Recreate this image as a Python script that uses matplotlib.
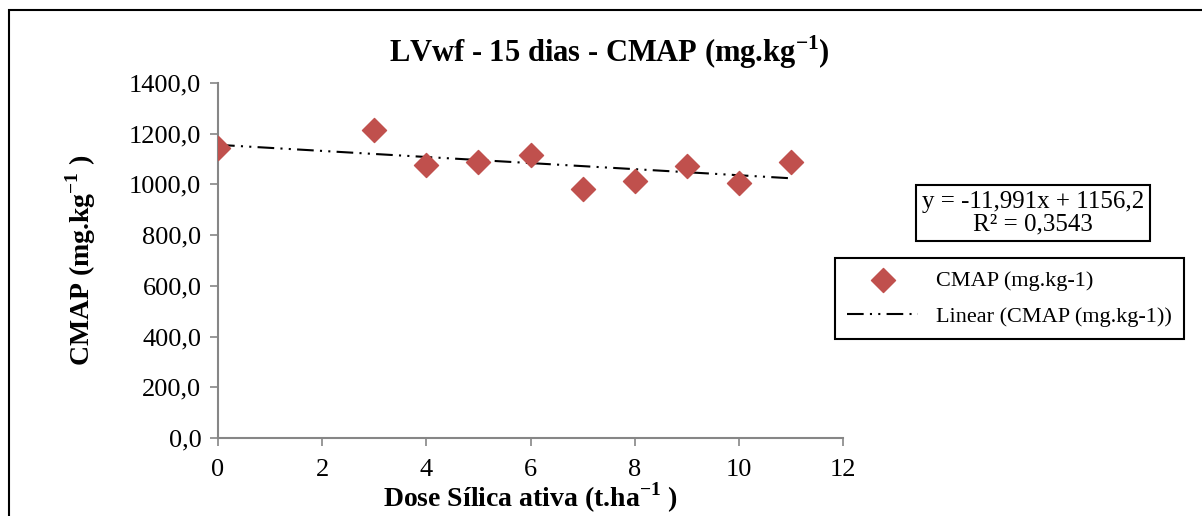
import numpy as np
import matplotlib.pyplot as plt
from matplotlib.patches import Rectangle

# dados
dose = [0, 3, 4, 5, 6, 7, 8, 9, 10, 11]
cmap = [1143, 1214, 1077, 1088, 1116, 982, 1013, 1073, 1006, 1088]
coef_a = -11.991
coef_b = 1156.2
r2 = 0.3543

plt.rcParams['font.family'] = ['Liberation Serif', 'DejaVu Serif']
plt.rcParams['mathtext.fontset'] = 'custom'
plt.rcParams['mathtext.rm'] = 'Liberation Serif'
plt.rcParams['mathtext.bf'] = 'Liberation Serif:bold'

fig = plt.figure(figsize=(12.02, 5.16), dpi=100)
ax = fig.add_axes([0.1814, 0.1512, 0.5199, 0.6879])

ax.scatter(dose, cmap, marker='D', s=150, color='#C0504D', zorder=3,
           label='CMAP (mg.kg-1)')
xl = np.array([min(dose), max(dose)])
ax.plot(xl, coef_a * xl + coef_b, color='black', lw=1.5,
        linestyle=(0, (8, 3, 1, 3, 1, 3)), label='Linear (CMAP (mg.kg-1))')

ax.set_xlim(0, 12)
ax.set_ylim(0, 1400)
ax.set_xticks(range(0, 13, 2))
ax.set_yticks(range(0, 1401, 200))
ax.set_yticklabels([f'{v:.1f}'.replace('.', ',') for v in range(0, 1401, 200)])
ax.tick_params(labelsize=19, color='#868686', length=6, width=1.2)
ax.tick_params(axis='x', pad=9)
ax.tick_params(axis='y', pad=6)
for s in ['top', 'right']:
    ax.spines[s].set_visible(False)
for s in ['left', 'bottom']:
    ax.spines[s].set_color('#868686')
    ax.spines[s].set_linewidth(1.5)

fig.text(0.507, 0.899, r'LVwf - 15 dias - CMAP (mg.kg$^{\mathbf{-1}}$)', fontsize=22,
         fontweight='bold', ha='center', va='center')
ax.set_xlabel(r'Dose Sílica ativa (t.ha$^{\mathbf{-1}}$ )', fontsize=20,
              fontweight='bold', labelpad=0)
ax.set_ylabel(r'CMAP (mg.kg$^{\mathbf{-1}}$ )', fontsize=20,
              fontweight='bold', labelpad=22)

ax.legend(loc='upper left', bbox_to_anchor=(0.987, 0.507), fontsize=16,
          frameon=True, fancybox=False, edgecolor='black', framealpha=1,
          handlelength=3.2, handletextpad=0.8, borderpad=0.55,
          labelspacing=0.7, borderaxespad=0)
ax.get_legend().get_frame().set_linewidth(1.5)

fig.text(0.8594, 0.587, f'y = {coef_a:.3f}x + {coef_b:.1f}\nR² = {r2:.4f}'.replace('.', ','),
         ha='center', va='center', fontsize=18, linespacing=1.0,
         bbox=dict(boxstyle='square,pad=0.25', fc='white', ec='black', lw=1.5))

fig.patches.append(Rectangle((0.0075, -0.1), 1.2, 1.081, transform=fig.transFigure,
                             fill=False, ec='black', lw=1.5))

fig.savefig('out.png', dpi=100)
